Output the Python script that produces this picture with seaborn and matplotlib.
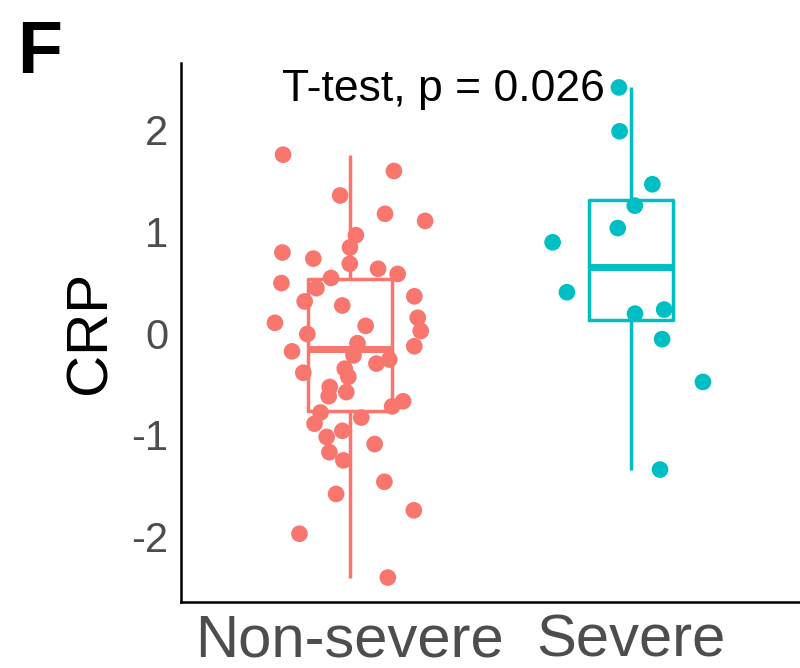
import numpy as np
import pandas as pd
import matplotlib
matplotlib.use("Agg")
import matplotlib.pyplot as plt
import seaborn as sns

# =====================================================
# DONNEES
# =====================================================
groupes = ["Non-severe", "Severe"]
couleurs = ["#F8766D", "#00BFC4"]

crp_non_severe = [1.75, 1.59, 1.35, 1.17, 1.10, 0.96, 0.84, 0.79, 0.73, 0.68,
                  0.63, 0.58, 0.54, 0.49, 0.44, 0.36, 0.31, 0.27, 0.15, 0.10,
                  0.07, 0.02, -0.01, -0.10, -0.13, -0.18, -0.22, -0.26, -0.30, -0.35,
                  -0.39, -0.43, -0.53, -0.58, -0.62, -0.67, -0.72, -0.78, -0.83, -0.89,
                  -0.96, -1.02, -1.09, -1.17, -1.25, -1.46, -1.58, -1.74, -1.97, -2.40]
crp_severe = [2.41, 1.98, 1.46, 1.25, 1.03, 0.89, 0.40, 0.23, 0.19, -0.06, -0.48, -1.34]

y_ticks = [-2, -1, 0, 1, 2]
texte_test = "T-test, p = 0.026"

df = pd.DataFrame({
    "groupe": [groupes[0]] * len(crp_non_severe) + [groupes[1]] * len(crp_severe),
    "CRP": crp_non_severe + crp_severe,
})
palette = dict(zip(groupes, couleurs))

# =====================================================
# STYLE
# =====================================================
sns.set_style("white")
plt.rcParams["font.family"] = ["Liberation Sans", "DejaVu Sans"]
plt.rcParams["axes.unicode_minus"] = False

fig = plt.figure(figsize=(8, 6.68), dpi=100)
ax = fig.add_axes([0.22625, 0.0988, 0.77375, 0.8069])

# =====================================================
# BOXPLOT + POINTS
# =====================================================
sns.boxplot(data=df, x="groupe", y="CRP", hue="groupe", palette=palette,
            order=groupes, hue_order=groupes, fill=False, width=0.3,
            linewidth=2.5, showcaps=False, showfliers=False,
            medianprops={"linewidth": 5}, legend=False, ax=ax)

np.random.seed(7)
sns.stripplot(data=df, x="groupe", y="CRP", hue="groupe", palette=palette,
              order=groupes, hue_order=groupes, jitter=0.28, size=12,
              linewidth=0, legend=False, ax=ax, zorder=5)

ax.set_xlim(-0.6, 1.6)
ax.set_ylim(-2.64, 2.65)
ax.set_yticks(y_ticks)
ax.set_yticklabels([str(t) for t in y_ticks])

ax.set_xlabel("")
ax.set_ylabel("CRP", fontsize=42, color="black", labelpad=10)

for s in ["top", "right"]:
    ax.spines[s].set_visible(False)
for s in ["left", "bottom"]:
    ax.spines[s].set_color("black")
    ax.spines[s].set_linewidth(1.8)

ax.tick_params(axis="y", labelsize=30, colors="#333333", labelcolor="#4D4D4D",
               length=6, width=1.6, pad=3)
ax.tick_params(axis="x", labelsize=43, colors="#333333", labelcolor="#4D4D4D",
               length=6, width=1.6, pad=2)

ax.text(-0.24, 2.28, texte_test, fontsize=32, color="black",
        ha="left", va="baseline")

fig.text(0.022, 0.972, "F", fontsize=53, fontweight="bold", color="black",
         ha="left", va="top")

plt.savefig("out.png", dpi=100)
